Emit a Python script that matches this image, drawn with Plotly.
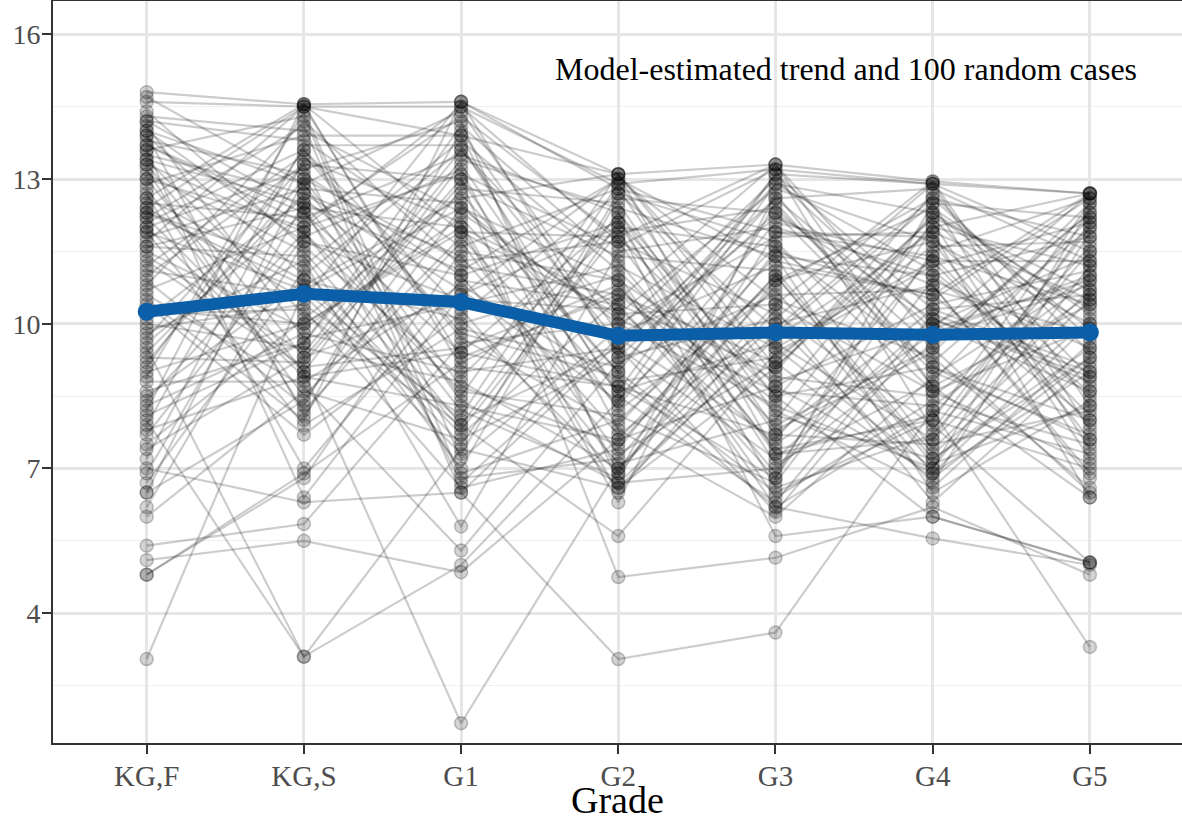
import plotly.graph_objects as go

grades = ["KG,F", "KG,S", "G1", "G2", "G3", "G4", "G5"]
y_ticks = [4, 7, 10, 13, 16]
trend = [10.25, 10.62, 10.45, 9.75, 9.82, 9.77, 9.82]

# 100 random cases, one row per case (KG,F ... G5)
cases = [
    [14.8, 14.55, 14.6, 13.1, 13.3, 12.95, 12.7],
    [14.6, 14.5, 14.5, 12.9, 13.2, 12.9, 12.7],
    [3.05, 10.7, 8.0, 9.5, 7.2, 10.1, 8.8],
    [8.0, 3.1, 5.0, 8.4, 11.6, 7.4, 10.5],
    [9.5, 3.1, 7.4, 6.6, 9.1, 12.0, 11.2],
    [12.2, 9.0, 1.72, 7.0, 10.4, 8.6, 9.9],
    [7.0, 6.3, 6.5, 3.05, 3.6, 8.2, 3.3],
    [13.7, 12.1, 14.3, 11.8, 8.5, 6.0, 5.05],
    [12.6, 14.55, 11.9, 10.2, 12.8, 11.7, 7.6],
    [6.5, 8.4, 12.8, 12.5, 7.8, 9.4, 12.5],
    [11.2, 13.5, 9.8, 8.9, 6.2, 5.55, 5.0],
    [13.9, 11.0, 13.6, 9.6, 12.2, 10.8, 6.9],
    [10.4, 7.7, 10.2, 12.7, 9.9, 12.6, 11.8],
    [9.2, 13.0, 8.7, 7.5, 11.0, 7.1, 8.3],
    [4.8, 6.8, 11.5, 10.9, 8.8, 9.9, 10.9],
    [13.4, 10.2, 7.9, 5.6, 9.4, 11.2, 12.1],
    [11.8, 12.8, 12.5, 9.0, 13.1, 10.3, 9.1],
    [8.6, 9.6, 14.1, 11.3, 7.4, 8.0, 7.0],
    [14.2, 12.4, 6.9, 8.0, 10.9, 12.4, 10.2],
    [12.0, 8.9, 9.4, 12.2, 6.6, 7.7, 11.5],
    [7.7, 11.8, 13.2, 6.9, 12.5, 9.1, 8.0],
    [10.8, 14.2, 11.2, 10.6, 8.2, 6.6, 9.6],
    [13.6, 6.4, 10.6, 13.0, 11.3, 10.6, 12.7],
    [6.0, 8.6, 7.6, 9.3, 10.1, 12.9, 7.8],
    [12.9, 13.9, 13.9, 7.8, 6.0, 8.9, 11.0],
    [9.8, 11.3, 5.8, 11.5, 12.0, 11.0, 8.6],
    [11.5, 9.9, 12.2, 8.6, 9.6, 7.6, 10.7],
    [14.0, 12.9, 8.4, 6.7, 7.0, 9.6, 12.3],
    [5.4, 5.85, 9.6, 10.0, 11.8, 11.9, 6.4],
    [12.4, 10.5, 14.6, 12.8, 8.1, 7.2, 9.3],
    [8.9, 14.4, 7.2, 9.9, 13.0, 10.0, 11.4],
    [13.2, 8.2, 11.7, 7.3, 9.2, 12.2, 8.9],
    [10.1, 12.6, 10.0, 11.0, 6.4, 8.4, 7.5],
    [7.4, 9.3, 13.0, 8.2, 10.7, 6.9, 10.0],
    [14.4, 11.6, 8.9, 12.0, 11.6, 9.2, 12.0],
    [11.0, 13.3, 6.7, 9.7, 7.6, 11.4, 8.1],
    [9.0, 10.0, 12.0, 6.3, 12.7, 8.7, 10.4],
    [12.7, 7.0, 10.9, 10.4, 9.0, 12.7, 9.4],
    [5.1, 5.5, 4.85, 7.6, 8.7, 10.4, 11.1],
    [13.0, 12.0, 14.5, 11.7, 10.2, 7.9, 5.05],
    [8.2, 14.55, 9.1, 8.7, 6.8, 11.5, 12.6],
    [11.4, 9.4, 13.4, 12.4, 11.4, 6.5, 8.4],
    [6.7, 11.1, 7.7, 10.5, 13.3, 9.7, 10.8],
    [13.8, 13.1, 11.0, 7.1, 8.0, 12.1, 7.2],
    [10.6, 8.7, 5.3, 9.2, 10.6, 10.7, 9.8],
    [12.3, 10.8, 12.6, 13.1, 7.3, 8.1, 11.6],
    [9.6, 12.3, 8.2, 6.8, 11.9, 11.8, 8.7],
    [14.1, 9.7, 10.4, 11.2, 9.5, 7.0, 12.4],
    [7.9, 13.7, 13.7, 8.5, 6.3, 10.2, 9.0],
    [11.6, 11.4, 7.0, 12.6, 12.3, 9.0, 7.7],
    [4.8, 6.9, 9.2, 10.7, 8.4, 12.3, 10.3],
    [13.5, 12.7, 11.4, 7.7, 10.0, 6.7, 11.9],
    [10.9, 8.3, 14.0, 9.4, 12.9, 11.1, 8.5],
    [8.5, 10.9, 7.5, 12.1, 7.1, 8.8, 12.2],
    [12.1, 13.6, 10.3, 6.6, 9.8, 12.5, 7.4],
    [9.3, 9.2, 12.9, 11.4, 11.1, 7.3, 10.1],
    [13.3, 11.9, 8.6, 8.1, 6.7, 10.9, 9.5],
    [6.9, 12.5, 11.1, 13.0, 10.5, 9.3, 6.6],
    [11.9, 7.9, 9.9, 9.1, 12.6, 12.8, 11.3],
    [14.3, 14.0, 12.3, 10.1, 8.6, 8.3, 10.6],
    [10.2, 10.3, 6.6, 7.4, 11.5, 10.5, 12.6],
    [12.5, 12.2, 13.5, 12.3, 7.7, 7.5, 8.2],
    [8.8, 8.8, 10.8, 8.8, 9.3, 11.6, 11.7],
    [13.1, 11.5, 7.8, 11.9, 12.4, 9.5, 6.5],
    [7.2, 13.4, 12.1, 6.5, 10.3, 6.3, 9.2],
    [11.3, 9.1, 9.5, 10.8, 6.9, 12.0, 12.7],
    [14.7, 12.9, 14.4, 9.8, 11.2, 10.6, 8.0],
    [9.9, 10.4, 8.1, 12.9, 8.9, 8.5, 10.9],
    [12.8, 8.5, 11.8, 8.3, 12.1, 11.3, 7.9],
    [6.2, 11.7, 10.5, 10.3, 7.5, 9.8, 11.0],
    [13.6, 14.3, 6.8, 7.2, 10.8, 12.6, 9.7],
    [10.7, 12.0, 13.1, 11.6, 13.2, 7.8, 12.0],
    [8.3, 9.8, 9.0, 9.5, 6.1, 10.0, 8.6],
    [12.0, 13.2, 14.2, 6.7, 9.7, 11.9, 10.5],
    [11.1, 10.6, 7.3, 12.7, 11.7, 8.6, 7.1],
    [13.9, 8.1, 12.4, 10.0, 8.3, 7.0, 11.2],
    [9.4, 12.7, 10.7, 8.4, 12.9, 12.3, 9.9],
    [12.3, 11.2, 13.8, 11.1, 7.9, 9.5, 12.3],
    [10.0, 9.5, 8.8, 7.0, 10.0, 10.8, 6.8],
    [14.2, 13.8, 11.6, 12.8, 11.9, 11.4, 10.4],
    [7.5, 10.1, 12.7, 9.0, 6.5, 8.0, 12.5],
    [11.7, 14.5, 9.3, 10.6, 9.2, 6.8, 9.3],
    [13.0, 9.0, 13.3, 8.6, 13.1, 12.9, 11.5],
    [8.4, 11.9, 7.9, 12.3, 8.5, 9.1, 7.6],
    [12.6, 10.9, 10.1, 6.9, 10.9, 11.7, 10.0],
    [6.5, 13.0, 11.3, 11.7, 7.3, 7.6, 12.1],
    [10.5, 8.0, 14.6, 9.3, 12.3, 10.1, 8.9],
    [13.4, 12.5, 8.5, 13.1, 9.1, 12.2, 10.7],
    [11.9, 10.7, 12.4, 10.9, 6.2, 8.2, 7.3],
    [9.1, 13.6, 9.7, 7.9, 11.4, 11.0, 11.8],
    [14.0, 11.7, 11.0, 12.1, 8.7, 6.9, 9.0],
    [12.2, 14.1, 6.5, 9.6, 12.6, 9.9, 12.7],
    [8.1, 9.6, 13.6, 10.2, 10.4, 12.95, 8.3],
    [13.7, 12.3, 9.4, 8.7, 7.7, 10.3, 10.6],
    [10.3, 10.0, 11.9, 11.8, 13.3, 8.7, 6.4],
    [12.4, 14.5, 13.9, 13.1, 9.5, 11.3, 11.3],
    [7.8, 8.9, 8.3, 7.6, 11.0, 7.2, 9.5],
    [11.6, 12.4, 12.0, 10.4, 6.8, 12.5, 12.2],
    [13.3, 9.3, 10.6, 12.0, 5.6, 6.0, 5.05],
    [9.7, 13.3, 13.0, 4.75, 5.15, 6.2, 4.8],
]

fig = go.Figure()

for row in cases:
    fig.add_trace(go.Scatter(
        x=grades, y=row, mode="lines+markers",
        line=dict(color="rgba(0,0,0,0.2)", width=2.2),
        marker=dict(size=13, color="rgba(0,0,0,0.17)",
                    line=dict(color="rgba(0,0,0,0.22)", width=1.5)),
        showlegend=False, hoverinfo="skip",
    ))

fig.add_trace(go.Scatter(
    x=grades, y=trend, mode="lines+markers",
    line=dict(color="#0b5ea8", width=12),
    marker=dict(size=18, color="#0b5ea8"),
    showlegend=False,
))

serif = "Liberation Serif, Times New Roman, serif"

fig.add_annotation(
    x=4.45, y=15.28, xref="x", yref="y",
    text="Model-estimated trend and 100 random cases",
    showarrow=False, font=dict(family=serif, size=32, color="black"),
)

# x-axis title placed as paper-anchored text just below the tick labels
fig.add_annotation(
    x=0.5, y=-0.108, xref="paper", yref="paper",
    xanchor="center", yanchor="bottom",
    text="Grade", showarrow=False,
    font=dict(family=serif, size=38, color="black"),
)

fig.update_layout(
    width=1182, height=823,
    margin=dict(l=53, r=0, t=1, b=80),
    plot_bgcolor="white", paper_bgcolor="white",
    font=dict(family=serif),
    xaxis=dict(
        type="category", categoryorder="array", categoryarray=grades,
        range=[-0.596, 6.586],
        showgrid=True, gridcolor="#e6e6e6", gridwidth=2.5,
        showline=True, linecolor="#333333", linewidth=2, mirror=True,
        ticks="outside", ticklen=9, tickwidth=2, tickcolor="#333333",
        tickfont=dict(family=serif, size=29, color="#4d4d4d"),
        ticklabelstandoff=-3,
        zeroline=False, automargin=False,
    ),
    yaxis=dict(
        range=[1.31, 16.69],
        tickvals=y_ticks,
        showgrid=True, gridcolor="#e6e6e6", gridwidth=2.5,
        minor=dict(tick0=1, dtick=1.5, showgrid=True, gridcolor="#f0f0f0", gridwidth=1.3, ticks=""),
        showline=True, linecolor="#333333", linewidth=2, mirror=False,
        ticks="outside", ticklen=9, tickwidth=2, tickcolor="#333333",
        tickfont=dict(family=serif, size=28, color="#4d4d4d"),
        ticklabelstandoff=-4,
        zeroline=False, automargin=False,
    ),
)

fig.write_html("out.html", config={"displayModeBar": False},
               post_script="document.body.style.margin='0';")
